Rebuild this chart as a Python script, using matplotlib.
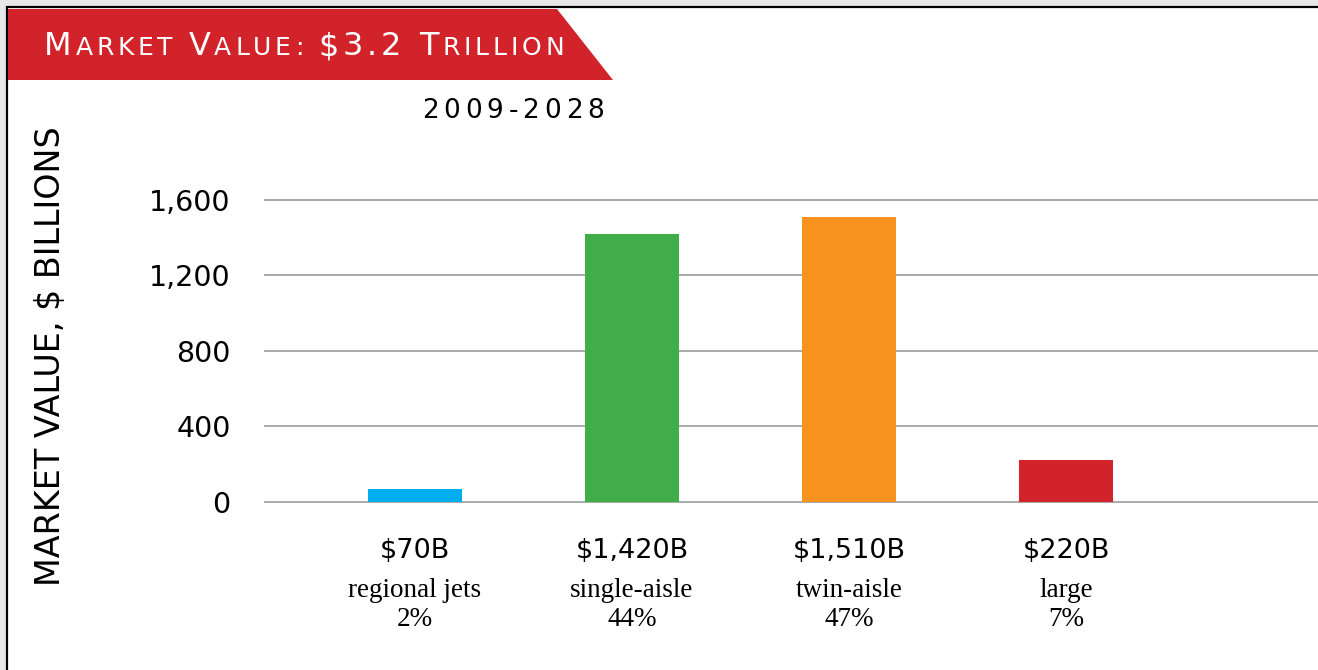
import matplotlib
matplotlib.use("Agg")
import matplotlib.pyplot as plt
from matplotlib.patches import Polygon, Rectangle

# market value by aircraft category, 2009-2028 ($ billions)
categories = ["regional jets", "single-aisle", "twin-aisle", "large"]
values = [70, 1420, 1510, 220]
value_labels = ["$70B", "$1,420B", "$1,510B", "$220B"]
shares = ["2%", "44%", "47%", "7%"]
bar_colors = ["#00aeef", "#41ad49", "#f7921e", "#d2232a"]
yticks = [0, 400, 800, 1200, 1600]
ytick_labels = ["0", "400", "800", "1,200", "1,600"]

W, H = 1318, 670
SANS = "DejaVu Sans"
SERIF = "Liberation Serif"

fig = plt.figure(figsize=(W / 100, H / 100), dpi=100)
fig.patch.set_facecolor("#e6e7e8")


def fx(px):
    return px / W


def fy(py):
    return 1 - py / H


# white panel with black frame (runs off the right and bottom edges)
fig.add_artist(Rectangle((fx(7), -0.2), 1.2, fy(7) + 0.2, transform=fig.transFigure,
                         facecolor="white", edgecolor="black", linewidth=1.6, zorder=-3))

# red banner
banner = [(8, 9), (557, 9), (613, 80), (8, 80)]
fig.add_artist(Polygon([(fx(x), fy(y)) for x, y in banner], closed=True,
                       transform=fig.transFigure, facecolor="#d2232a",
                       edgecolor="none", zorder=-2))

renderer = fig.canvas.get_renderer()


def spaced_text(x0, y_base, pieces, width, color="black", ha="left"):
    """Write a run of characters one by one, spread to a given total width."""
    chars = [(ch, size) for s, size in pieces for ch in s]
    arts = []
    for ch, size in chars:
        t = fig.text(0, fy(y_base), ch, fontsize=size, color=color,
                     family=SANS, va="baseline", ha="left")
        arts.append(t)
    widths = []
    for t, (ch, size) in zip(arts, chars):
        if ch == " ":
            probe = fig.text(0, 0, "a a", fontsize=size, family=SANS)
            probe2 = fig.text(0, 0, "aa", fontsize=size, family=SANS)
            w = probe.get_window_extent(renderer).width - probe2.get_window_extent(renderer).width
            probe.remove()
            probe2.remove()
        else:
            w = t.get_window_extent(renderer).width
        widths.append(w)
    track = (width - sum(widths)) / max(len(chars) - 1, 1)
    x = x0 - width / 2 if ha == "center" else x0
    for t, w in zip(arts, widths):
        t.set_x(fx(x))
        x += w + track


BIG, SMALL = 23, 18
spaced_text(44, 55, [("M", BIG), ("ARKET ", SMALL), ("V", BIG), ("ALUE: ", SMALL),
                     ("$3.2 ", BIG), ("T", BIG), ("RILLION", SMALL)],
            520, color="white")
spaced_text(513, 118, [("2009-2028", 19)], 182, ha="center")

fig.text(fx(51), fy(356), "MARKET VALUE, $ BILLIONS", rotation=90, fontsize=24,
         family=SANS, ha="center", va="center")

# plot area
ax = fig.add_axes([fx(264), fy(505.8), 1 - fx(264), (505.8 - 180.8) / H])
ax.set_facecolor("none")
x = list(range(len(categories)))
ax.bar(x, values, width=0.433, color=bar_colors, zorder=2)
ax.set_xlim(-0.696, 4.161)
ax.set_ylim(-20, 1700)

ax.set_yticks(yticks)
ax.set_yticklabels(ytick_labels, fontsize=20.5, family=SANS)
ax.tick_params(axis="y", length=0, pad=24)
ax.set_xticks([])
ax.yaxis.grid(True, color="#a3a3a3", linewidth=1.3)
ax.set_axisbelow(True)
for s in ax.spines.values():
    s.set_visible(False)

for i in x:
    ax.annotate(value_labels[i], (i, 0), xytext=(0, -40.3), textcoords="offset points",
                ha="center", va="baseline", fontsize=19.5, family=SANS)
    ax.annotate(categories[i], (i, 0), xytext=(0, -68.4), textcoords="offset points",
                ha="center", va="baseline", fontsize=19.5, family=SERIF)
    ax.annotate(shares[i], (i, 0), xytext=(0, -89.5), textcoords="offset points",
                ha="center", va="baseline", fontsize=19.5, family=SERIF)

fig.savefig("out.png", dpi=100, facecolor=fig.get_facecolor())
